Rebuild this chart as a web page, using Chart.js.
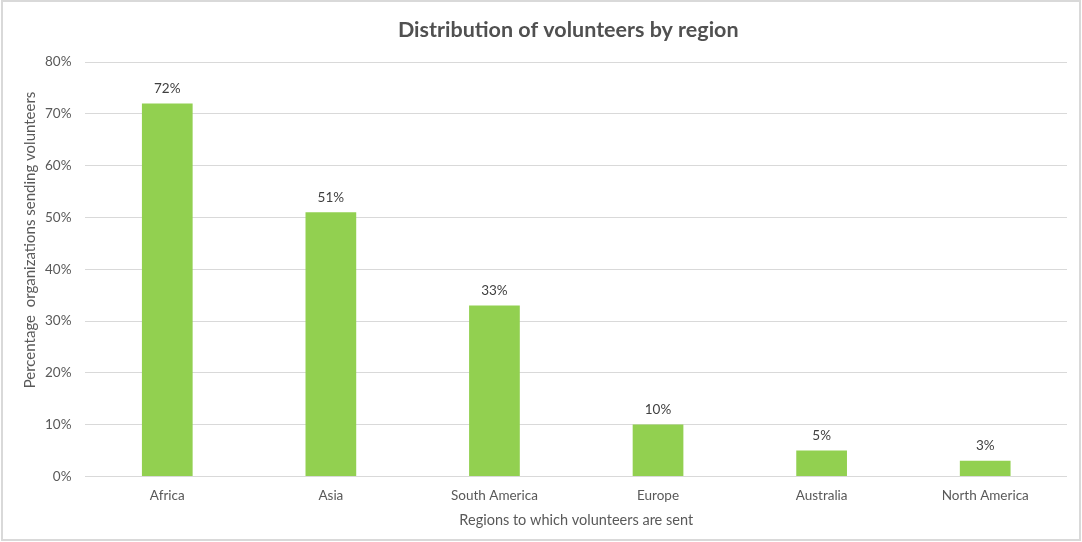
<!DOCTYPE html>
<html>
<head>
<meta charset="utf-8">
<script src="https://cdn.jsdelivr.net/npm/chart.js@4"></script>
<style>
  html, body { margin: 0; padding: 0; background: #fff; }
  #wrap {
    position: absolute; left: 1px; top: 0; width: 1080px; height: 541px;
    box-sizing: border-box; border: 2px solid #d9d9d9; background: #fff;
  }
  canvas { display: block; }
</style>
</head>
<body>
<div id="wrap"><canvas id="myChart" width="1076" height="537"></canvas></div>
<script>
'use strict';
const regions = ['Africa', 'Asia', 'South America', 'Europe', 'Australia', 'North America'];
const shares = [72, 51, 33, 10, 5, 3];
const yTicks = [0, 10, 20, 30, 40, 50, 60, 70, 80];
const chartTitle = 'Distribution of volunteers by region';
const yTitle = 'Percentage  organizations sending volunteers';

// percentage above each bar, plus the chart title and y title,
// which sit centred on the plot rather than on the canvas
const extras = {
  id: 'extras',
  afterDatasetsDraw(chart) {
    const ctx = chart.ctx;
    const meta = chart.getDatasetMeta(0);
    const area = chart.chartArea;
    ctx.save();
    ctx.font = '13.5px Lato';
    ctx.fillStyle = '#404040';
    ctx.textAlign = 'center';
    ctx.textBaseline = 'bottom';
    meta.data.forEach((bar, i) => {
      ctx.fillText(shares[i] + '%', bar.x, bar.y - 8);
    });

    ctx.font = 'bold 21.5px Lato';
    ctx.fillStyle = '#505050';
    ctx.textBaseline = 'middle';
    ctx.fillText(chartTitle, (area.left + area.right) / 2 - 8, 28);

    ctx.font = '15px Lato';
    ctx.fillStyle = '#595959';
    ctx.translate(27, 238);
    ctx.rotate(-Math.PI / 2);
    ctx.fillText(yTitle, 0, 0);
    ctx.restore();
  }
};

const ctx = document.getElementById('myChart').getContext('2d');
const myChart = new Chart(ctx, {
  type: 'bar',
  data: {
    labels: regions,
    datasets: [
      {
        label: 'share',
        data: shares,
        backgroundColor: '#92d050',
        borderWidth: 0,
        categoryPercentage: 1,
        barPercentage: 0.31,
      },
    ],
  },
  options: {
    responsive: false,
    animation: false,
    layout: { padding: { left: 28, right: 12, top: 60, bottom: 10 } },
    plugins: {
      legend: { display: false },
      tooltip: { enabled: false },
      title: { display: false },
    },
    scales: {
      x: {
        grid: { display: false },
        border: { display: false },
        ticks: { color: '#595959', font: { family: 'Lato', size: 13.5 }, padding: 3 },
        title: {
          display: true,
          text: 'Regions to which volunteers are sent',
          color: '#595959',
          font: { family: 'Lato', size: 14.5 },
          padding: { top: 5, bottom: 0 },
        },
      },
      y: {
        min: 0,
        max: 80,
        afterBuildTicks(axis) {
          axis.ticks = yTicks.map(v => ({ value: v }));
        },
        grid: { color: '#d9d9d9', lineWidth: 1, drawTicks: false },
        border: { display: false },
        ticks: {
          color: '#595959',
          font: { family: 'Lato', size: 13.5 },
          padding: 14,
          callback: v => v + '%',
        },
      },
    },
  },
  plugins: [extras],
});
</script>
</body>
</html>
